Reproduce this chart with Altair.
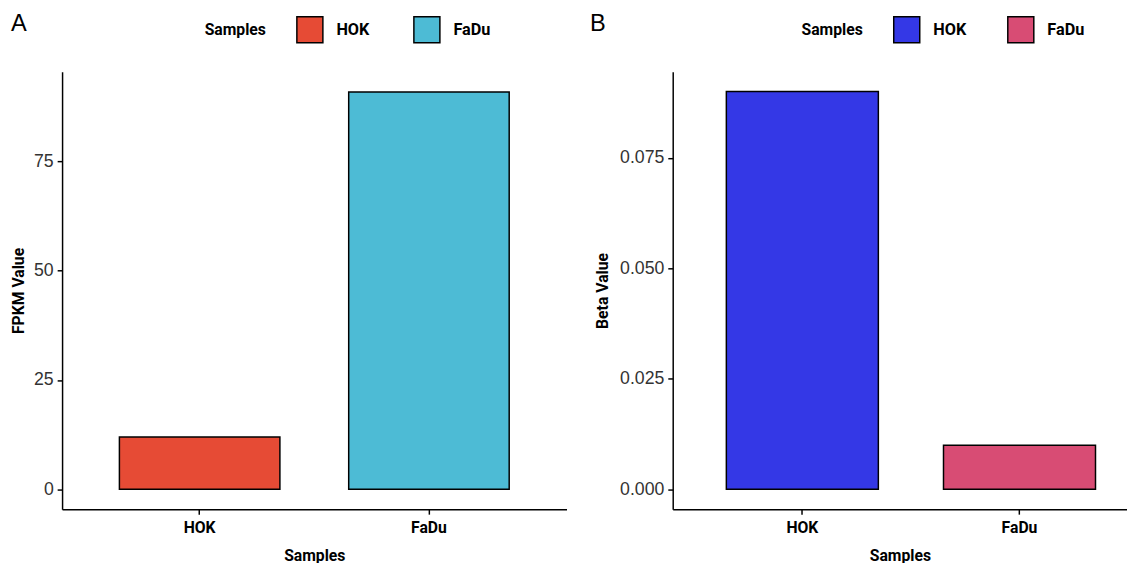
import altair as alt
import pandas as pd

samples = ["HOK", "FaDu"]
fpkm_values = [12.0, 90.9]
beta_values = [0.090, 0.010]
colors_a = ["#E64B35", "#4DBBD5"]
colors_b = ["#3438E6", "#D84C74"]
fpkm_ticks = [0, 25, 50, 75]
beta_ticks = [0.0, 0.025, 0.05, 0.075]
panel_labels = ["A", "B"]

BOLD = "Roboto, Liberation Sans, sans-serif"
REG = "Liberation Sans, Arial, sans-serif"

df_a = pd.DataFrame({"Samples": samples, "FPKM Value": fpkm_values})
df_b = pd.DataFrame({"Samples": samples, "Beta Value": beta_values})


def panel(df, field, ticks, fmt, domain, colors, width, p_outer, align, label, label_dx,
          leg_x, col_pad, ytitle_pad):
    x_axis = alt.Axis(
        labelAngle=0, labelFont=BOLD, labelFontSize=16, labelFontWeight="bold",
        labelColor="black", labelPadding=6, tickSize=5, tickColor="black", tickWidth=1.5,
        domainColor="black", domainWidth=1.5, titleFont=BOLD, titleFontSize=16,
        titleFontWeight="bold", titleColor="black", titlePadding=12, grid=False,
    )
    y_axis = alt.Axis(
        values=ticks, format=fmt, labelFont=REG, labelFontSize=18, labelColor="#333333",
        labelPadding=4, tickSize=5, tickColor="black", tickWidth=1.5, domainColor="black",
        domainWidth=1.5, titleFont=BOLD, titleFontSize=16, titleFontWeight="bold",
        titleColor="black", titlePadding=ytitle_pad, grid=False,
    )
    legend = alt.Legend(
        orient="none", legendX=leg_x, legendY=-57, direction="horizontal",
        titleOrient="left", title="Samples", symbolType="square", symbolSize=700,
        symbolStrokeColor="black", symbolStrokeWidth=1.5, symbolOpacity=1,
        titleFont=BOLD, titleFontSize=16, titleFontWeight="bold", titleColor="black",
        titlePadding=30, labelFont=BOLD, labelFontSize=16.5, labelFontWeight="bold",
        labelColor="black", labelOffset=13, columnPadding=col_pad,
    )
    bars = alt.Chart(df).mark_bar(stroke="black", strokeWidth=1.5).encode(
        x=alt.X("Samples:N", sort=samples, title="Samples",
                scale=alt.Scale(paddingInner=0.3, paddingOuter=p_outer, align=align),
                axis=x_axis),
        y=alt.Y(f"{field}:Q", title=field,
                scale=alt.Scale(domain=domain, nice=False, zero=False), axis=y_axis),
        y2=alt.datum(0),
        color=alt.Color("Samples:N", sort=samples,
                        scale=alt.Scale(domain=samples, range=colors), legend=legend),
    )
    tag = alt.Chart(pd.DataFrame({"label": [label]})).mark_text(
        font=REG, fontSize=24, color="black", align="left", baseline="alphabetic"
    ).encode(text="label:N", x=alt.value(label_dx), y=alt.value(-41))
    return alt.layer(bars, tag).properties(width=width, height=445)


chart_a = panel(df_a, "FPKM Value", fpkm_ticks, "d", [-4.55, 95.55], colors_a,
                513, 0.25, 0.5, panel_labels[0], -52, 145, 41, 7)
chart_b = panel(df_b, "Beta Value", beta_ticks, ".3f", [-0.0045, 0.0945], colors_b,
                462, 0.196, 0.63, panel_labels[1], -84, 131, 38, 9)

chart = alt.hconcat(chart_a, chart_b, spacing=24).resolve_scale(
    color="independent"
).resolve_legend(color="independent").configure_view(stroke=None).properties(
    padding={"left": 2, "top": 0, "right": 0, "bottom": 0}
)

chart.save("out.html", embed_options={"renderer": "svg", "actions": False})
